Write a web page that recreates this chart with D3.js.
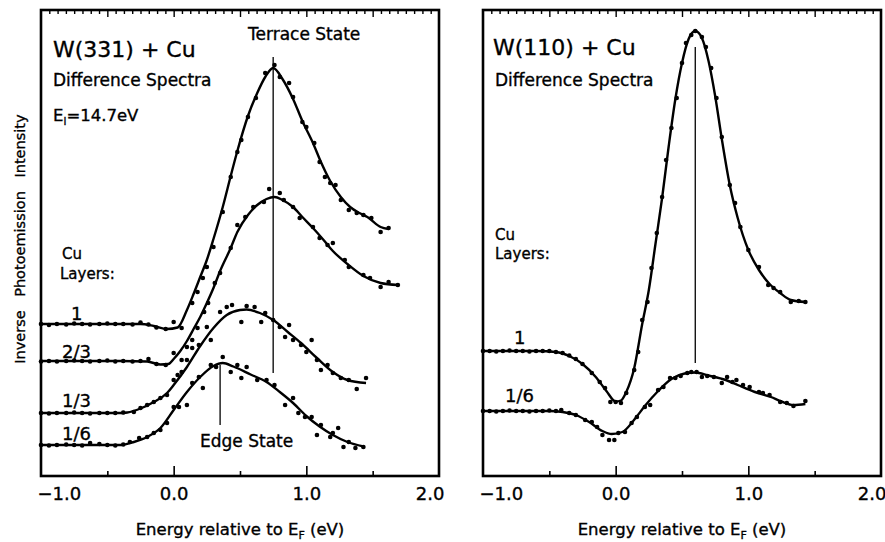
<!DOCTYPE html>
<html><head><meta charset="utf-8">
<script src="https://cdn.jsdelivr.net/npm/d3@7"></script>
<style>
body{margin:0;background:#fff}
svg text{font-family:"DejaVu Sans",sans-serif;fill:#000;stroke:#000;stroke-width:0.35px}
</style></head><body>
<svg id="c" width="885" height="542"></svg>
<script>
// ---------------- DATA ----------------
const energyMajor = [-1, 0, 1, 2];          // labelled ticks (eV)
const energyHalf = [-0.5, 0.5, 1.5];        // unlabelled bottom ticks
const energyTopLong = [-0.5, 0, 0.5, 1, 1.5];
const minorStep = 0.0625;

// W(331)+Cu fitted curves [E (eV), intensity (arb.)]
const w331Fit1 = [[-1.0,30.4],[-0.5,30.4],[-0.25,30.4],[-0.15,30.0],[-0.05,29.4],[0.03,29.7],[0.1,33.2],[0.15,36.4],[0.2,39.8],[0.25,43.2],[0.3,47.4],[0.37,53.8],[0.43,60.0],[0.48,65.0],[0.56,72.0],[0.63,76.6],[0.69,79.8],[0.75,81.6],[0.82,79.4],[0.9,75.4],[0.97,71.0],[1.05,66.6],[1.11,62.8],[1.18,59.0],[1.26,55.8],[1.33,53.8],[1.4,52.6],[1.46,51.8],[1.56,49.8],[1.62,49.4]];
const w331Fit23 = [[-1.0,23.0],[-0.4,23.0],[-0.2,22.9],[-0.1,22.3],[-0.04,22.4],[0.0,23.4],[0.05,25.0],[0.1,27.0],[0.15,29.4],[0.2,31.8],[0.25,34.6],[0.3,37.6],[0.35,41.0],[0.43,45.6],[0.48,48.8],[0.56,52.2],[0.63,54.2],[0.7,55.4],[0.76,55.8],[0.82,55.2],[0.9,53.8],[0.97,51.8],[1.05,49.6],[1.13,47.2],[1.2,45.0],[1.31,42.4],[1.43,40.0],[1.56,38.6],[1.69,38.2]];
const w331Fit13 = [[-1.0,12.6],[-0.4,12.6],[-0.35,12.7],[-0.25,13.5],[-0.15,14.8],[-0.05,16.6],[0.0,18.2],[0.1,21.8],[0.2,26.0],[0.3,29.6],[0.4,32.2],[0.5,33.2],[0.55,33.3],[0.65,32.6],[0.75,31.2],[0.86,28.8],[0.96,26.6],[1.08,23.6],[1.2,20.8],[1.31,19.2],[1.45,18.6]];
const w331Fit16 = [[-1.0,6.2],[-0.4,6.2],[-0.3,6.8],[-0.2,7.8],[-0.1,9.6],[0.0,13.2],[0.1,16.8],[0.2,19.8],[0.3,22.0],[0.37,22.6],[0.45,21.9],[0.58,20.3],[0.7,18.8],[0.8,16.8],[0.9,14.6],[1.0,12.0],[1.1,9.9],[1.2,8.2],[1.31,6.8],[1.43,5.9]];

// W(331)+Cu measured points
const w331Dots1 = [[-1.00,30.4],[-0.94,30.2],[-0.88,30.4],[-0.81,30.3],[-0.75,30.5],[-0.69,30.4],[-0.63,30.3],[-0.56,30.4],[-0.50,30.5],[-0.44,30.4],[-0.38,30.4],[-0.31,30.3],[-0.25,30.7],[-0.19,30.3],[-0.13,29.7],[-0.06,29.4],[0.00,30.8],[0.06,29.6],[0.14,34.6],[0.18,36.8],[0.22,39.6],[0.25,41.8],[0.30,45.8],[0.37,52.8],[0.43,59.8],[0.48,64.8],[0.51,67.2],[0.56,71.8],[0.62,75.6],[0.69,80.6],[0.76,82.2],[0.80,79.8],[0.87,78.6],[0.90,75.8],[0.97,70.8],[1.00,69.8],[1.06,66.6],[1.10,62.8],[1.14,59.8],[1.18,58.6],[1.22,58.2],[1.26,55.2],[1.32,53.2],[1.38,52.6],[1.43,52.2],[1.49,51.6],[1.56,48.8],[1.62,49.6]];
const w331Dots23 = [[-1.00,22.9],[-0.94,23.0],[-0.88,22.9],[-0.81,23.0],[-0.75,23.1],[-0.69,23.0],[-0.63,22.9],[-0.56,23.0],[-0.50,23.1],[-0.44,22.9],[-0.38,23.0],[-0.31,22.9],[-0.25,23.0],[-0.19,23.4],[-0.13,22.4],[-0.06,22.2],[0.00,24.6],[0.06,23.2],[0.10,25.8],[0.14,27.2],[0.18,29.6],[0.23,32.8],[0.26,34.6],[0.31,38.6],[0.35,40.6],[0.43,45.6],[0.48,50.2],[0.54,51.8],[0.60,53.8],[0.68,54.8],[0.72,57.4],[0.80,56.6],[0.83,55.2],[0.90,53.8],[0.95,51.6],[1.05,49.8],[1.10,47.6],[1.16,46.2],[1.20,46.6],[1.29,43.2],[1.32,41.8],[1.43,40.2],[1.48,39.6],[1.56,37.8],[1.62,38.8],[1.69,38.2]];
const w331Dots13 = [[-1.00,12.6],[-0.94,12.5],[-0.88,12.6],[-0.81,12.6],[-0.75,12.7],[-0.69,12.6],[-0.63,12.5],[-0.56,12.6],[-0.50,12.6],[-0.44,12.6],[-0.38,12.7],[-0.30,12.8],[-0.25,13.6],[-0.20,14.2],[-0.15,14.8],[-0.10,15.6],[-0.05,16.2],[0.00,19.2],[0.03,20.2],[0.06,20.8],[0.10,23.2],[0.14,25.6],[0.19,26.2],[0.25,29.8],[0.28,27.2],[0.35,32.8],[0.40,33.8],[0.44,34.2],[0.51,30.8],[0.55,34.0],[0.61,33.8],[0.66,30.8],[0.69,32.6],[0.75,31.2],[0.80,29.8],[0.84,27.8],[0.87,30.2],[0.90,27.2],[0.96,26.2],[1.00,24.8],[1.04,27.2],[1.08,23.2],[1.11,21.2],[1.16,22.2],[1.20,20.6],[1.26,19.6],[1.32,19.2],[1.38,17.4],[1.45,19.6]];
const w331Dots16 = [[-1.00,6.2],[-0.94,6.1],[-0.88,6.2],[-0.81,6.3],[-0.75,6.2],[-0.69,6.1],[-0.63,6.6],[-0.56,6.4],[-0.50,6.2],[-0.44,6.1],[-0.38,6.3],[-0.33,6.8],[-0.26,7.6],[-0.20,7.8],[-0.15,8.6],[-0.10,9.2],[-0.05,10.6],[0.00,13.8],[0.04,13.8],[0.10,14.2],[0.14,18.6],[0.19,19.8],[0.22,17.6],[0.28,22.2],[0.32,21.8],[0.37,23.8],[0.43,20.8],[0.48,22.2],[0.51,19.6],[0.55,21.8],[0.63,19.2],[0.70,19.2],[0.76,18.2],[0.84,14.2],[0.90,15.6],[0.94,12.6],[0.99,11.8],[1.04,11.8],[1.08,8.2],[1.11,10.2],[1.18,7.8],[1.20,8.6],[1.24,9.6],[1.28,5.8],[1.32,6.8],[1.37,5.6],[1.43,5.8]];

// W(110)+Cu fitted curves
const w110Fit1 = [[-1.0,25.0],[-0.6,25.0],[-0.45,24.8],[-0.35,24.0],[-0.25,22.4],[-0.15,19.8],[-0.07,17.0],[0.0,14.9],[0.04,15.1],[0.08,16.8],[0.14,21.6],[0.2,30.4],[0.25,37.2],[0.3,46.4],[0.35,55.6],[0.4,66.0],[0.45,75.4],[0.5,82.6],[0.55,87.4],[0.6,89.0],[0.65,87.6],[0.7,83.0],[0.75,76.0],[0.8,67.4],[0.86,58.2],[0.92,51.6],[1.0,45.2],[1.08,41.2],[1.16,38.4],[1.24,36.6],[1.32,35.2],[1.43,34.8]];
const w110Fit16 = [[-1.0,13.0],[-0.5,13.0],[-0.4,12.8],[-0.3,12.2],[-0.2,10.8],[-0.1,9.0],[-0.03,8.4],[0.05,8.8],[0.15,11.6],[0.22,14.0],[0.32,17.0],[0.42,19.4],[0.52,20.5],[0.6,20.7],[0.7,20.1],[0.83,19.2],[0.92,18.2],[1.05,16.8],[1.17,15.8],[1.25,14.9],[1.34,14.2],[1.43,14.4]];

// W(110)+Cu measured points
const w110Dots1 = [[-1.00,25.0],[-0.95,25.0],[-0.90,24.9],[-0.85,25.0],[-0.80,25.1],[-0.75,25.0],[-0.70,25.0],[-0.65,24.9],[-0.60,25.0],[-0.55,25.0],[-0.50,25.0],[-0.45,24.8],[-0.40,24.6],[-0.35,24.1],[-0.30,23.4],[-0.25,22.4],[-0.18,20.6],[-0.12,18.8],[-0.08,17.6],[-0.04,14.8],[0.00,14.8],[0.04,14.6],[0.08,16.6],[0.14,21.2],[0.17,24.8],[0.20,31.2],[0.24,34.8],[0.27,41.6],[0.31,48.6],[0.35,55.8],[0.38,63.2],[0.42,69.6],[0.46,75.6],[0.50,82.6],[0.53,86.6],[0.57,88.2],[0.60,89.0],[0.65,87.8],[0.68,85.8],[0.72,81.6],[0.76,75.6],[0.80,67.8],[0.86,58.2],[0.90,54.6],[0.94,49.8],[1.00,45.2],[1.08,41.8],[1.15,38.2],[1.19,37.6],[1.24,36.8],[1.32,34.8],[1.38,35.0],[1.43,34.8]];
const w110Dots16 = [[-1.00,13.0],[-0.95,13.0],[-0.90,12.9],[-0.85,13.0],[-0.80,13.1],[-0.75,13.0],[-0.70,13.0],[-0.65,12.9],[-0.60,13.0],[-0.55,13.0],[-0.50,13.1],[-0.45,13.0],[-0.41,13.2],[-0.35,12.6],[-0.30,12.2],[-0.23,11.2],[-0.18,10.8],[-0.14,9.8],[-0.10,8.2],[-0.05,7.2],[-0.01,7.2],[0.02,8.6],[0.07,8.8],[0.12,10.6],[0.16,11.8],[0.22,13.8],[0.26,14.2],[0.32,17.2],[0.36,17.8],[0.41,19.6],[0.45,19.6],[0.49,20.0],[0.54,20.6],[0.57,20.8],[0.61,20.8],[0.65,19.8],[0.69,20.0],[0.74,19.8],[0.80,18.6],[0.84,19.8],[0.88,18.8],[0.91,19.2],[0.96,18.2],[1.01,17.8],[1.08,16.8],[1.11,16.6],[1.16,16.2],[1.24,14.8],[1.29,14.6],[1.34,14.0],[1.43,15.0]];

// state marker lines [E, low, high]
const w331Terrace = [0.75, 20.6, 83.8];
const w331Edge = [0.35, 10.2, 22.2];
const w110State = [0.60, 22.6, 85.8];

// labels
const seriesLabels331 = ["1", "2/3", "1/3", "1/6"];
const seriesLabels110 = ["1", "1/6"];
const yTitleWords = ["Inverse", "Photoemission", "Intensity"];

// ---------------- DRAW ----------------
const svg = d3.select("#c");
const fmt = d3.format(".1f");
const y = d3.scaleLinear().domain([0, 93.2]).range([476, 10]);

function text(g, str, x, yy, size, anchor) {
  return g.append("text").attr("x", x).attr("y", yy).attr("font-size", size)
    .attr("text-anchor", anchor || "start").text(str);
}

function panel(x0, x1, fits, dots, stateLines, cfg) {
  const x = d3.scaleLinear().domain([-1, 2]).range([x0, x1]);
  const g = svg.append("g");
  const top = y.range()[1], bot = y.range()[0];

  // bottom axis: labelled integer ticks
  const axB = g.append("g").attr("transform", `translate(0,${bot})`)
    .call(d3.axisBottom(x).tickValues(energyMajor).tickSizeInner(-10).tickSizeOuter(0)
      .tickPadding(11).tickFormat(fmt));
  axB.select(".domain").remove();
  axB.attr("font-family", null).attr("font-size", null);
  axB.selectAll("line").attr("stroke-width", 1.6);
  axB.selectAll("text").attr("font-size", 18).attr("dy", "0.71em");
  axB.selectAll("line").filter(d => d === -1 || d === 2).remove();
  const tt = axB.selectAll("text");
  tt.filter(d => d === -1).attr("text-anchor", "start").attr("x", -4);
  tt.filter(d => d === 2).attr("text-anchor", "end").attr("x", 5);

  const axH = g.append("g").attr("transform", `translate(0,${bot})`)
    .call(d3.axisBottom(x).tickValues(energyHalf).tickSizeInner(-5).tickSizeOuter(0).tickFormat(""));
  axH.select(".domain").remove();
  axH.selectAll("line").attr("stroke-width", 1.6);

  // top axis: minor ticks
  const minor = d3.range(-1 + minorStep, 2 - 1e-6, minorStep).filter(v => Math.abs(v * 2 - Math.round(v * 2)) > 1e-6);
  const axT = g.append("g").attr("transform", `translate(0,${top})`)
    .call(d3.axisTop(x).tickValues(minor).tickSizeInner(-4).tickSizeOuter(0).tickFormat(""));
  axT.select(".domain").remove();
  axT.selectAll("line").attr("stroke-width", 1.4);
  const axT2 = g.append("g").attr("transform", `translate(0,${top})`)
    .call(d3.axisTop(x).tickValues(energyTopLong).tickSizeInner(-7).tickSizeOuter(0).tickFormat(""));
  axT2.select(".domain").remove();
  axT2.selectAll("line").attr("stroke-width", 1.4);

  // frame
  g.append("rect").attr("x", x0).attr("y", top).attr("width", x1 - x0).attr("height", bot - top)
    .attr("fill", "none").attr("stroke", "#000").attr("stroke-width", 2.6);

  // state lines
  stateLines.forEach(s => {
    g.append("line").attr("x1", x(s[0])).attr("x2", x(s[0])).attr("y1", y(s[2])).attr("y2", y(s[1]))
      .attr("stroke", "#000").attr("stroke-width", 1.3);
  });

  // fitted curves
  const line = d3.line().x(d => x(d[0])).y(d => y(d[1])).curve(d3.curveMonotoneX);
  fits.forEach(f => g.append("path").attr("d", line(f)).attr("fill", "none")
    .attr("stroke", "#000").attr("stroke-width", 2.4).attr("stroke-linejoin", "round"));

  // data points
  dots.forEach(ds => g.append("g").selectAll("circle").data(ds).join("circle")
    .attr("cx", d => x(d[0])).attr("cy", d => y(d[1])).attr("r", 2.3).attr("fill", "#000"));

  // x axis title
  const t = g.append("text").attr("x", (x0 + x1) / 2).attr("y", 535).attr("font-size", 16.5)
    .attr("text-anchor", "middle");
  t.append("tspan").text("Energy relative to E");
  t.append("tspan").attr("font-size", 11).attr("dy", 4).text("F");
  t.append("tspan").attr("dy", -4).text(" (eV)");

  cfg(g, x);
}

panel(41, 439, [w331Fit1, w331Fit23, w331Fit13, w331Fit16],
  [w331Dots1, w331Dots23, w331Dots13, w331Dots16], [w331Terrace, w331Edge], (g, x) => {
  text(g, "W(331) + Cu", 53, 57, 22);
  text(g, "Difference Spectra", 53, 86, 17);
  const e = g.append("text").attr("x", 53).attr("y", 121).attr("font-size", 16.5);
  e.append("tspan").text("E");
  e.append("tspan").attr("font-size", 10).attr("dy", 4).text("I");
  e.append("tspan").attr("dy", -4).text("=14.7eV");
  text(g, "Terrace State", 248, 40, 17);
  text(g, "Cu", 62, 259, 15);
  text(g, "Layers:", 60, 279, 15);
  text(g, seriesLabels331[0], 71, 320, 18);
  text(g, seriesLabels331[1], 62, 358, 18);
  text(g, seriesLabels331[2], 62, 407, 18);
  text(g, seriesLabels331[3], 62, 440, 18);
  text(g, "Edge State", 200, 447, 17);
});

panel(483, 881, [w110Fit1, w110Fit16], [w110Dots1, w110Dots16], [w110State], (g, x) => {
  text(g, "W(110) + Cu", 493, 55, 22);
  text(g, "Difference Spectra", 495, 86, 17);
  text(g, "Cu", 495, 240, 15);
  text(g, "Layers:", 495, 259, 15);
  text(g, seriesLabels110[0], 514, 344, 18);
  text(g, seriesLabels110[1], 505, 402, 18);
});

// y axis title (rotated words)
const wordCenters = [337, 244, 146];
yTitleWords.forEach((w, i) => {
  svg.append("text").attr("transform", `translate(25,${wordCenters[i]}) rotate(-90)`)
    .attr("font-size", 14.5).attr("text-anchor", "middle").text(w);
});
</script>
</body></html>
